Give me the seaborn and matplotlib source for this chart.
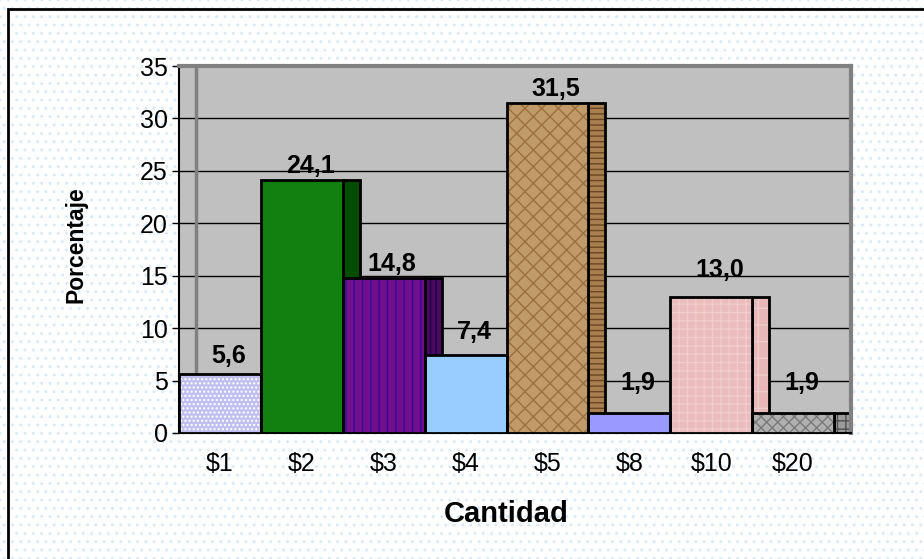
import matplotlib
matplotlib.use("Agg")
import matplotlib.pyplot as plt
from matplotlib.patches import Rectangle
import numpy as np
import seaborn as sns

# data
categories = ["$1", "$2", "$3", "$4", "$5", "$8", "$10", "$20"]
values = [5.6, 24.1, 14.8, 7.4, 31.5, 1.9, 13.0, 1.9]
value_labels = ["5,6", "24,1", "14,8", "7,4", "31,5", "1,9", "13,0", "1,9"]
y_ticks = [0, 5, 10, 15, 20, 25, 30, 35]

# styling per bar (front face, side face, texture imitation)
front_colors = ["#c0c0f0", "#118011", "#70108c", "#99ccff", "#c09a68", "#9999ff", "#ebbcbc", "#b0b0b0"]
front_hatch = ["....", "", "||", "", "xx", "", "++", "xxx"]
front_hatch_colors = ["#ffffff", "#118011", "#3a0a96", "#99ccff", "#9a7040", "#9999ff", "#f0cccc", "#7a7a7a"]
side_colors = ["#9a9ad0", "#004c00", "#4a0a60", "#7aa3cc", "#a88050", "#7a7acc", "#e8b8b8", "#9a9a9a"]
side_hatch = ["", "", "|||", "", "---", "", "+", "++"]
side_hatch_colors = ["#9a9ad0", "#004c00", "#200050", "#7aa3cc", "#6a4520", "#7a7acc", "#f0cccc", "#505050"]
label_gap_px = [11, 7, 7, 16, 7, 23, 20, 23]

DEPTH = 17 / 82  # side face width, in category units
W, H = 924, 559

sns.set_theme(style="white")
plt.rcParams["font.family"] = ["Liberation Sans", "DejaVu Sans"]
plt.rcParams["hatch.linewidth"] = 1.0
for key in ["text.color", "axes.labelcolor", "xtick.color", "ytick.color"]:
    plt.rcParams[key] = "black"

fig = plt.figure(figsize=(W / 100, H / 100), dpi=100)
fig.patch.set_facecolor("white")

# dotted chart-area background and outer frame
fig.patches.append(Rectangle((0, 0), 1, 1, transform=fig.transFigure, fill=False,
                             hatch="..", edgecolor="#dceaf6", linewidth=0, zorder=-2))
fig.patches.append(Rectangle((8 / W, -0.1), 1.2, 1.1 - 9 / H, transform=fig.transFigure,
                             fill=False, edgecolor="black", linewidth=2, zorder=-1))

ax = fig.add_axes([179 / W, 126 / H, 672 / W, 367 / H])
ax.set_facecolor("#c0c0c0")

n = len(categories)
x = np.arange(n)

# side faces (drawn first so the next bar's front hides them)
sides = ax.bar(x + 0.5 + DEPTH / 2, values, width=DEPTH, color=side_colors, linewidth=0, zorder=2)
for p, h, hc in zip(sides, side_hatch, side_hatch_colors):
    p.set_hatch(h)
    p.set_edgecolor(hc)
ax.bar(x + 0.5 + DEPTH / 2, values, width=DEPTH, fill=False, edgecolor="black", linewidth=2, zorder=2.1)

# front faces
sns.barplot(x=categories, y=values, hue=categories, palette=front_colors, width=1.0,
            saturation=1, legend=False, linewidth=0, ax=ax, zorder=3)
for p, h, hc in zip(ax.patches[-n:], front_hatch, front_hatch_colors):
    p.set_hatch(h)
    p.set_edgecolor(hc)
ax.bar(x, values, width=1.0, fill=False, edgecolor="black", linewidth=2, zorder=3.1)

# value labels
for i, (v, lab, gap) in enumerate(zip(values, value_labels, label_gap_px)):
    ax.annotate(lab, (i + DEPTH / 2, v), xytext=(0, gap * 0.72), textcoords="offset points",
                ha="center", va="baseline", fontsize=18, fontweight="bold", color="black", zorder=5)

# back wall edge
ax.plot([-0.5 + DEPTH] * 2, [0, 35], color="#808080", linewidth=2.5, zorder=1)

ax.set_xlim(-0.5, n - 0.5 + DEPTH)
ax.set_ylim(0, 35)
ax.set_yticks(y_ticks)
ax.yaxis.grid(True, color="black", linewidth=1)
ax.xaxis.grid(False)
ax.set_axisbelow(True)

ax.set_xticks(x)
ax.set_xticklabels(categories)
ax.set_xticks(np.arange(n + 1) - 0.5, minor=True)
ax.tick_params(axis="x", which="major", length=0, pad=14, labelsize=18, labelcolor="black")
ax.tick_params(axis="x", which="minor", length=4.5, width=1, color="#404040", direction="out")
ax.tick_params(axis="y", length=5, width=1, color="black", direction="out", pad=3, labelsize=18,
               labelcolor="black", left=True)
ax.set_xlabel("")
ax.set_ylabel("")

for side in ["left", "bottom"]:
    ax.spines[side].set_color("black")
    ax.spines[side].set_linewidth(1.5)
for side in ["top", "right"]:
    ax.spines[side].set_color("#808080")
    ax.spines[side].set_linewidth(3)

fig.text(506 / W, 1 - 522 / H, "Cantidad", ha="center", va="baseline", fontsize=21,
         fontweight="bold", color="black")
fig.text(76 / W, 1 - 245 / H, "Porcentaje", ha="center", va="center", rotation=90,
         fontsize=16.5, fontweight="bold", color="black")

fig.savefig("out.png", dpi=100)
